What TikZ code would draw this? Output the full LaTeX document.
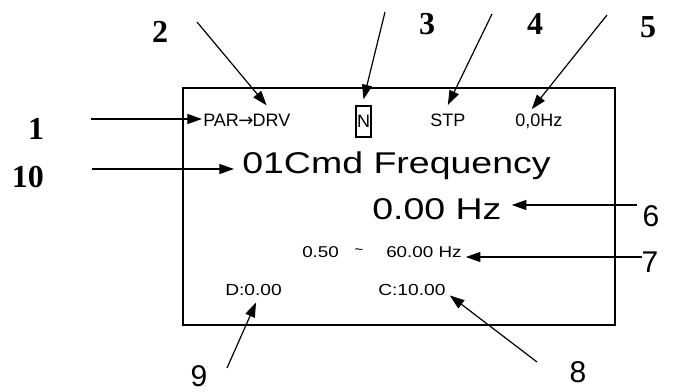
\documentclass[tikz,border=0pt]{standalone}
\usepackage{fontspec}
\usepackage{tikz}
\usetikzlibrary{arrows.meta}
\usetikzlibrary{calc}
\newfontfamily\lcdfont{Liberation Sans}
\newfontfamily\lcdwidefont[FakeStretch=1.25]{Liberation Sans}
\newfontfamily\lcdmidfont[FakeStretch=1.2]{Liberation Sans}
\newfontfamily\symfont{DejaVu Sans}
\newfontfamily\tagfont{Liberation Serif}

\begin{document}
\begin{tikzpicture}[x=0.75pt,y=-0.75pt,
		pointer/.style={-{Triangle[length=11pt,width=7.5pt]},line width=0.9pt},
		lcdsmall/.style={font=\lcdfont\fontsize{13.5}{16}\selectfont,inner sep=0pt},
		lcdmid/.style={font=\lcdmidfont\fontsize{11.75}{14}\selectfont,inner sep=0pt},
		lcdlow/.style={font=\lcdmidfont\fontsize{12}{14}\selectfont,inner sep=0pt},
		lcdbig/.style={font=\lcdwidefont\fontsize{22.5}{26}\selectfont,inner sep=0pt},
		tagserif/.style={font=\tagfont\bfseries\fontsize{24}{28}\selectfont,inner sep=0pt},
		tagsans/.style={font=\lcdfont\fontsize{22.5}{27}\selectfont,inner sep=0pt}]
	\useasboundingbox (0,0) rectangle (694,392);
	
	% display frame
	\draw[line width=1.4pt] (183,88) rectangle (615,325);
	
	% status line
	\node[lcdsmall,anchor=base west] (menu) at (203,127) {PAR{\symfont\kern-0.5pt→\kern-0.5pt}DRV};
	\node[lcdsmall,draw,line width=0.9pt,minimum width=11.25pt,minimum height=23.25pt] (mode) at (363.5,121.5) {N};
	\node[lcdsmall,anchor=base west] (stp) at (430,127) {STP};
	\node[lcdsmall,anchor=base west] (fout) at (515,127) {0,0Hz};
	
	% parameter name and value
	\node[lcdbig,anchor=base west] (title) at (242,174) {01Cmd Frequency};
	\node[lcdbig,anchor=base west] (value) at (372,220) {0.00 Hz};
	
	% range
	\node[lcdmid,anchor=base west] (lo) at (302,258) {0.50};
	\node[font=\lcdfont\fontsize{11}{13}\selectfont,inner sep=0pt] (tilde) at (359,252) {\textasciitilde};
	\node[lcdmid,anchor=base west] (hi) at (386,258) {60.00 Hz};
	
	% bottom line
	\node[lcdlow,anchor=base west] (dval) at (225,296) {D:0.00};
	\node[lcdlow,anchor=base west] (cval) at (378,296) {C:10.00};
	
	% callout numbers
	\node[tagserif] (n1) at (36,129) {1};
	\node[tagserif] (n10) at (28,177) {10};
	\node[tagserif] (n2) at (160,32) {2};
	\node[tagserif] (n3) at (427,24) {3};
	\node[tagserif] (n4) at (535,24) {4};
	\node[tagserif] (n5) at (648,27) {5};
	\node[tagsans] (n6) at (651,216) {6};
	\node[tagsans] (n7) at (650,262) {7};
	\node[tagsans] (n8) at (578,372) {8};
	\node[tagsans] (n9) at (199,376) {9};
	
	% arrow tails
	\coordinate (t1) at (91,119);
	\coordinate (t10) at (92,169);
	\coordinate (t2) at (197,22);
	\coordinate (t3) at (385,12);
	\coordinate (t4) at (492,14);
	\coordinate (t5) at (607,15);
	\coordinate (t6) at (637,205);
	\coordinate (t7) at (642,257);
	\coordinate (t8) at (537,362);
	\coordinate (t9) at (227,368);
	
	% arrows
	\draw[pointer] (t1) -- ($(t1 -| menu.west)+(-1,0)$);
	\draw[pointer] (t10) -- ($(t10 -| title.west)+(-8,0)$);
	\draw[pointer] (t2) -- ($(menu.north east)+(-24,-9)$);
	\draw[pointer] (t3) -- ($(mode.north)+(0,-6)$);
	\draw[pointer] (t4) -- ($(stp.north)+(0,-9)$);
	\draw[pointer] (t5) -- ($(fout.north)+(-7,-5)$);
	\draw[pointer] (t6) -- ($(t6 -| value.east)+(10,0)$);
	\draw[pointer] (t7) -- ($(t7 -| hi.east)+(4,0)$);
	\draw[pointer] (t8) -- ($(cval.south east)+(4,-1)$);
	\draw[pointer] (t9) -- ($(dval.south)+(2.5,6)$);
	
\end{tikzpicture}
\end{document}
